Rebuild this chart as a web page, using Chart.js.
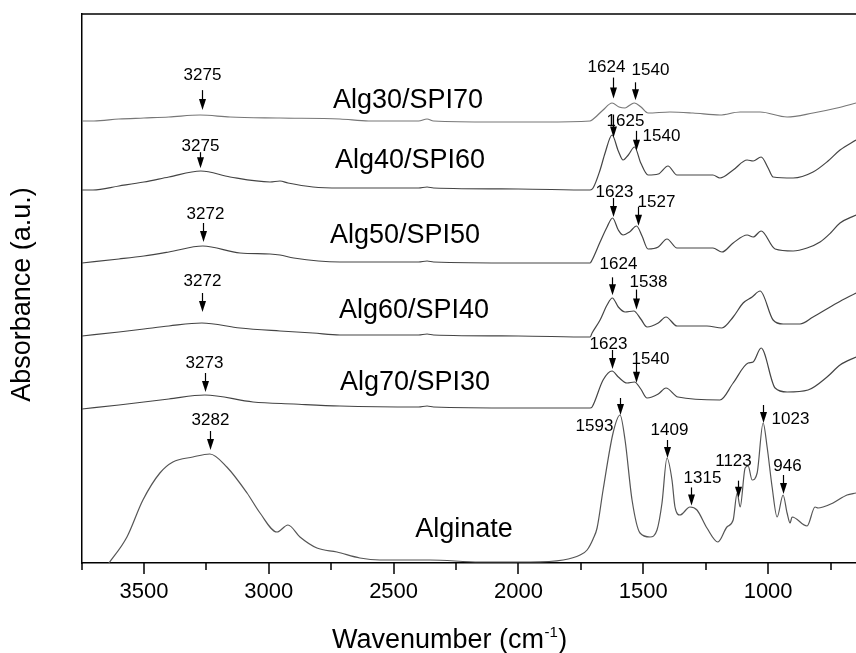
<!DOCTYPE html>
<html>
<head>
<meta charset="utf-8">
<script src="https://cdn.jsdelivr.net/npm/chart.js@4.4.0/dist/chart.umd.min.js"></script>
<style>
  html, body { margin: 0; padding: 0; background: #fff; }
  #wrap { width: 856px; height: 653px; }
</style>
</head>
<body>
<div id="wrap"><canvas id="ftir" width="856" height="653"></canvas></div>
<script>
// sample names, top to bottom
const sampleNames = ['Alg30/SPI70', 'Alg40/SPI60', 'Alg50/SPI50', 'Alg60/SPI40', 'Alg70/SPI30', 'Alginate'];

// spectra: wavenumber (cm-1) and stacked absorbance (a.u.)
const alg30Wn  = [3748,3700,3600,3500,3400,3275,3155,2955,2715,2600,2400,2366,2340,2100,1900,1713,1705,1661,1625,1597,1573,1553,1535,1509,1481,1393,1301,1193,1112,1032,924,820,724,648];
const alg30Abs = [442,442,444,445,446,448,446,445,444,442,442,444,442,441,441,442,443,453,460,456,455,458,460,456,450,451,450,448,451,451,446,450,455,460];

const alg40Wn  = [3748,3704,3600,3500,3400,3272,3155,2995,2955,2923,2823,2715,2400,2366,2340,2000,1713,1701,1673,1653,1625,1600,1581,1560,1535,1510,1481,1440,1401,1365,1221,1193,1140,1084,1060,1028,1000,980,900,820,760,712,648];
const alg40Abs = [373,373,377,381,386,392,386,381,382,380,376,375,375,376,375,374,373,375,393,410,428,412,403,408,416,400,388,389,397,388,388,385,393,403,402,406,395,386,385,391,402,413,423];

const alg50Wn  = [3748,3600,3500,3400,3264,3115,2995,2955,2900,2715,2400,2366,2340,2000,1713,1705,1673,1645,1623,1600,1581,1555,1527,1505,1481,1440,1405,1365,1221,1185,1140,1084,1060,1028,972,900,844,792,750,712,648];
const alg50Abs = [300,304,307,311,317,310,309,308,305,301,301,302,301,300,300,303,321,336,345,333,328,331,337,327,314,316,324,315,315,311,320,328,326,332,314,312,315,321,330,340,348];

const alg60Wn  = [3748,3600,3500,3400,3268,3115,2955,2823,2715,2400,2366,2340,2000,1713,1705,1673,1645,1624,1600,1573,1538,1510,1485,1440,1409,1365,1245,1185,1140,1100,1064,1032,980,940,872,820,724,648];
const alg60Abs = [227,231,234,237,240,235,232,230,228,228,229,228,227,226,230,243,258,265,256,251,252,244,236,240,246,237,237,235,246,260,266,272,243,239,239,246,260,270];

const alg70Wn  = [3748,3600,3500,3400,3256,3063,2900,2715,2400,2366,2340,2000,1713,1705,1661,1625,1600,1565,1535,1510,1485,1440,1409,1361,1193,1140,1080,1060,1028,972,924,840,764,712,648];
const alg70Abs = [154,158,161,164,168,161,159,157,156,157,156,155,155,156,183,192,186,180,181,174,165,169,175,166,163,180,200,201,215,175,171,173,186,198,206];

const alginateWn  = [3700,3640,3568,3504,3436,3384,3304,3236,3168,3087,3035,2967,2923,2875,2807,2727,2635,2555,2354,2154,1954,1821,1753,1725,1701,1685,1661,1621,1593,1573,1545,1513,1473,1445,1425,1405,1385,1373,1353,1313,1285,1245,1201,1165,1140,1124,1112,1092,1080,1064,1044,1020,1004,984,964,940,924,912,904,844,812,800,780,740,684,648];
const alginateAbs = [-20,0,26,63,90,101,106,109,96,70,50,31,38,26,15,11,5,3,3,1,1,3,8,13,24,35,73,130,148,123,63,30,26,33,60,105,83,56,48,56,53,35,21,36,43,70,56,95,97,83,90,140,116,76,46,68,50,40,46,37,56,55,56,60,68,70];

// x axis ticks (cm-1)
const xTickValues = [3750,3500,3250,3000,2750,2500,2250,2000,1750,1500,1250,1000,750];

// marked peaks: which spectrum, where the arrow sits, and the label text
const peakSeries = [0,0,0, 1,1,1, 2,2,2, 3,3,3, 4,4,4, 5,5,5,5,5,5,5];
const peakArrowWn = [3268,1621,1533, 3276,1621,1529, 3264,1621,1521, 3268,1625,1529, 3256,1625,1529, 3236,1593,1405,1309,1120,1020,940];
const peakLabels = ['3275','1624','1540', '3275','1625','1540', '3272','1623','1527', '3272','1624','1538', '3273','1623','1540', '3282','1593','1409','1315','1123','1023','946'];

const seriesWn  = [alg30Wn, alg40Wn, alg50Wn, alg60Wn, alg70Wn, alginateWn];
const seriesAbs = [alg30Abs, alg40Abs, alg50Abs, alg60Abs, alg70Abs, alginateAbs];

// layout of the name labels (wavenumber of text centre, absorbance of baseline)
const namePlace = [[2442,455],[2434,395],[2454,320],[2418,245],[2414,173],[2218,26]];
// arrow layout per peak: [gap above curve px, arrow length px, text dx, text dy from tip]
const peakPlace = [
  [5,20,0,-30],[5,21,-7,-27],[3,18,15,-25],
  [3,16,0,-17],[0,23,12,-12],[0,20,25,-10],
  [4,19,2,-23],[2,19,1,-20],[3,19,18,-19],
  [11,19,0,-26],[3,18,6,-26],[4,20,12,-23],
  [3,19,-1,-24],[2,19,-4,-20],[1,21,14,-19],
  [4,19,0,-25],[0,17,-26,16],[0,18,2,-23],[2,18,11,-22],[0,17,-5,-32],[0,18,27,1],[1,19,4,-23]
];

const FONT = "'Liberation Sans', Arial, sans-serif";

function valueAt(wnArr, absArr, w) {
  for (let i = 0; i < wnArr.length - 1; i++) {
    const a = wnArr[i], b = wnArr[i + 1];
    if ((w <= a && w >= b) || (w >= a && w <= b)) {
      const t = (w - a) / (b - a || 1);
      return absArr[i] + t * (absArr[i + 1] - absArr[i]);
    }
  }
  return absArr[absArr.length - 1];
}

const ftirDecor = {
  id: 'ftirDecor',
  afterDraw(chart) {
    const { ctx, chartArea: area, scales: { x, y } } = chart;
    ctx.save();
    ctx.strokeStyle = '#000';
    ctx.fillStyle = '#000';

    // top frame line
    ctx.lineWidth = 1.5;
    ctx.beginPath();
    ctx.moveTo(area.left, area.top);
    ctx.lineTo(area.right, area.top);
    ctx.stroke();

    // tick marks, major every 500, minor every 250
    xTickValues.forEach(v => {
      const px = Math.round(x.getPixelForValue(v));
      const len = v % 500 === 0 ? 11 : 7;
      ctx.beginPath();
      ctx.moveTo(px, area.bottom);
      ctx.lineTo(px, area.bottom + len);
      ctx.stroke();
    });

    // sample names
    ctx.font = '27px ' + FONT;
    ctx.textAlign = 'center';
    ctx.textBaseline = 'alphabetic';
    sampleNames.forEach((name, i) => {
      ctx.fillText(name, x.getPixelForValue(namePlace[i][0]), y.getPixelForValue(namePlace[i][1]));
    });

    // peak arrows + labels
    ctx.font = '17px ' + FONT;
    ctx.lineWidth = 1.2;
    peakLabels.forEach((txt, i) => {
      const s = peakSeries[i];
      const [gap, len, dx, dy] = peakPlace[i];
      const ax = Math.round(x.getPixelForValue(peakArrowWn[i])) + 0.5;
      const tip = y.getPixelForValue(valueAt(seriesWn[s], seriesAbs[s], peakArrowWn[i])) - gap;
      const headH = 11, headW = 3.5;
      ctx.beginPath();
      ctx.moveTo(ax, tip - len);
      ctx.lineTo(ax, tip - headH + 1);
      ctx.stroke();
      ctx.beginPath();
      ctx.moveTo(ax - headW, tip - headH);
      ctx.lineTo(ax + headW, tip - headH);
      ctx.lineTo(ax, tip);
      ctx.closePath();
      ctx.fill();
      ctx.fillText(txt, ax + dx, tip + dy);
    });

    // x title with superscript
    const cx = area.left + (area.right - area.left) * 0.475;
    const by = area.bottom + 85;
    const p1 = 'Wavenumber (cm', p3 = ')';
    ctx.font = '15px ' + FONT;
    const w2 = ctx.measureText('-1').width;
    ctx.font = '27px ' + FONT;
    const w1 = ctx.measureText(p1).width, w3 = ctx.measureText(p3).width;
    const sx = cx - (w1 + w2 + w3 + 1) / 2;
    ctx.textAlign = 'left';
    ctx.fillText(p1, sx, by);
    ctx.font = '15px ' + FONT;
    ctx.fillText('-1', sx + w1 + 0.5, by - 11);
    ctx.font = '27px ' + FONT;
    ctx.fillText(p3, sx + w1 + w2 + 1, by);

    // y title
    ctx.translate(30, (area.top + area.bottom) / 2 + 6);
    ctx.rotate(-Math.PI / 2);
    ctx.textAlign = 'center';
    ctx.fillText('Absorbance (a.u.)', 0, 0);
    ctx.restore();
  }
};

const lineColors = ['#777', '#444', '#444', '#444', '#444', '#555'];

new Chart(document.getElementById('ftir'), {
  type: 'line',
  data: {
    datasets: sampleNames.map((name, i) => ({
      label: name,
      data: seriesWn[i].map((w, k) => ({ x: w, y: seriesAbs[i][k] })),
      borderColor: lineColors[i],
      borderWidth: 1.2,
      pointRadius: 0,
      fill: false,
      cubicInterpolationMode: 'monotone'
    }))
  },
  options: {
    responsive: false,
    animation: false,
    events: [],
    layout: { padding: { top: 14, right: 0, left: 0, bottom: 0 } },
    plugins: { legend: { display: false }, tooltip: { enabled: false } },
    scales: {
      x: {
        type: 'linear',
        reverse: true,
        min: 648,
        max: 3748,
        afterBuildTicks: scale => { scale.ticks = xTickValues.map(v => ({ value: v })); },
        afterFit: scale => { scale.height = 90; },
        grid: { display: false, drawTicks: false },
        border: { display: true, color: '#000', width: 1.5 },
        ticks: {
          autoSkip: false,
          maxRotation: 0,
          padding: 16,
          color: '#000',
          font: { family: FONT, size: 22 },
          callback: v => (v % 500 === 0 ? String(v) : '')
        }
      },
      y: {
        min: 0,
        max: 549,
        afterFit: scale => { scale.width = 82; },
        grid: { display: false, drawTicks: false },
        border: { display: true, color: '#000', width: 1.5 },
        ticks: { display: false }
      }
    }
  },
  plugins: [ftirDecor]
});
</script>
</body>
</html>
